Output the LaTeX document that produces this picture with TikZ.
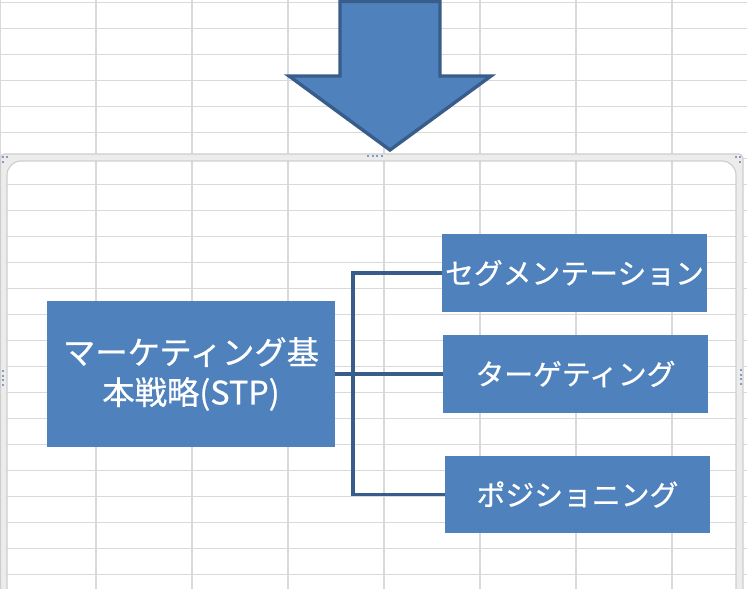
\documentclass[tikz,border=0pt]{standalone}
\usepackage{fontspec}
\newfontfamily\jpfont[FakeBold=0.6]{Noto Sans CJK JP}
\usepackage{tikz}
\usetikzlibrary{calc, positioning}
\usepackage{xcolor}
\definecolor{accent1}{RGB}{79, 129, 189}
\definecolor{accent1dark}{RGB}{56, 93, 138}
\definecolor{cellline}{RGB}{217, 217, 217}
\definecolor{frameband}{RGB}{236, 236, 236}
\definecolor{frameedge}{RGB}{206, 206, 206}
\definecolor{handle}{RGB}{135, 155, 190}

\begin{document}
\begin{tikzpicture}[x=0.025cm, y=-0.025cm, font=\jpfont,
    cell/.style={draw=cellline, line width=0.8pt},
    stpbox/.style={fill=accent1, text=white, inner sep=0pt, align=center,
      font=\jpfont\fontsize{20.5}{26}\selectfont},
    branch/.style={draw=accent1dark, line width=2.2pt}]
  \useasboundingbox (0,0) rectangle (747,589);
  \clip (0,0) rectangle (747,589);
  % Sheet grid
  \foreach \y in {2, 28, ..., 574}
    \draw[cell] (0,\y+0.5) -- (747,\y+0.5);
  \foreach \x in {0.5, 96, 192, ..., 672}
    \draw[cell] (\x,0) -- (\x,589);
  % Frame
  \fill[frameband, even odd rule] [rounded corners=3] (0.5,154) rectangle (743,640)
    [rounded corners=10] (7,161) rectangle (736,640);
  \draw[frameedge, line width=0.8pt] [rounded corners=3] (0.5,154) rectangle (743,640)
    [rounded corners=10] (7,161) rectangle (736,640);
  \foreach \dx in {0, 4.5, 9, 13.5}
    \fill[handle] (367+\dx,155) rectangle ++(2,2);
  \foreach \dy in {0, 4.5, 9, 13.5} {
    \fill[handle] (2,370+\dy) rectangle ++(2,2);
    \fill[handle] (740,369+\dy) rectangle ++(2,2);
  }
  \foreach \x/\y in {2/156, 6/156, 2/161, 735/156, 739/156, 739/161}
    \fill[handle] (\x,\y) rectangle ++(2,2);
  % Down arrow
  \draw[fill=accent1, draw=accent1dark, line width=2.4pt, line join=miter]
    (340,1.5) -- (440,1.5) -- (440,76) -- (491,76) -- (390,150)
    -- (289,76) -- (340,76) -- cycle;
  % STP
  \node[stpbox, minimum width=7.2cm, minimum height=3.65cm,
    font=\jpfont\fontsize{23}{28.5}\selectfont] (stp) at (191,374)
    {マーケティング基\\本戦略(STP)};
  \node[stpbox, minimum width=6.625cm, minimum height=1.95cm] (seg) at (574.5,273) {セグメンテーション};
  \node[stpbox, minimum width=6.625cm, minimum height=1.925cm] (tgt) at (575.5,374) {ターゲティング};
  \node[stpbox, minimum width=6.625cm, minimum height=1.925cm] (pos) at (577.5,494.5) {ポジショニング};
  \coordinate (hub) at (353,374);
  \draw[branch] (stp.east) -- (tgt.west);
  \draw[branch] (seg.west) -- (seg.west -| hub) -- (pos.west -| hub) -- (pos.west);
\end{tikzpicture}
\end{document}
